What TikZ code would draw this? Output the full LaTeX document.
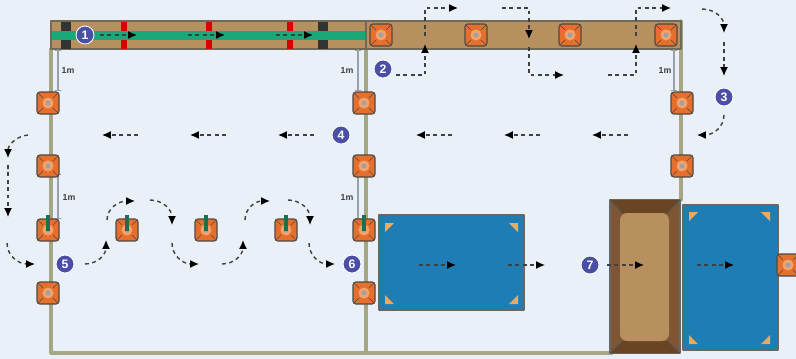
\documentclass[tikz,border=0pt]{standalone}
\usepackage{fontspec}
\setsansfont{Liberation Sans}
\usetikzlibrary{arrows.meta, calc}
\definecolor{paper}{HTML}{E9F0F8}
\definecolor{frameline}{HTML}{A5A684}
\definecolor{beamtan}{HTML}{B8905F}
\definecolor{beamedge}{HTML}{6E6A55}
\definecolor{tapegreen}{HTML}{1BA878}
\definecolor{stubgreen}{HTML}{1F6E50}
\definecolor{postorange}{HTML}{E56F2D}
\definecolor{postpale}{HTML}{F2A36B}
\definecolor{postedge}{HTML}{4F4A45}
\definecolor{matblue}{HTML}{1F7DB5}
\definecolor{mattri}{HTML}{EFA95A}
\definecolor{troughbrown}{HTML}{7F5633}
\definecolor{troughdark}{HTML}{694524}
\definecolor{markblue}{HTML}{4A4FA5}
\definecolor{dimgray}{HTML}{9AA0AC}
\tikzset{el/.style={line cap=round, line join=round},
  frm/.style={frameline, line width=1.8pt},
  flow/.style={black!75, line width=0.8pt, dash pattern=on 2.2pt off 2pt, line cap=butt, -{Latex[black, length=5pt, width=4.5pt]}},
  dimln/.style={dimgray, line width=0.9pt},
  stepmark/.style={circle, fill=markblue, draw=white, line width=0.5pt, text=white, inner sep=0pt, minimum size=0.36cm, font=\sffamily\bfseries\scriptsize},
  dimtxt/.style={inner sep=0pt, text=black!75, font=\sffamily\bfseries\tiny},
  post/.pic={
     \fill[postorange, draw=postedge, line width=0.6pt, rounded corners=1.6pt] (-11,-11) rectangle (11,11);
     \foreach \t in {45,135,225,315}{\draw[postedge, line width=0.25pt] (\t:7)--(\t:14);}
     \fill[postpale] (0,0) circle (5.5);
     \fill[dimgray] (0,0) circle (2.4);}}
\begin{document}
\begin{tikzpicture}[el, x=0.02cm, y=-0.02cm]
  \useasboundingbox (0,0) rectangle (796,359);
  \fill[paper] (0,0) rectangle (796,359);
  % frame
  \draw[frm] (681,200)--(681,21);
  \draw[frm] (51,49)--(51,353)--(612,353);
  \draw[frm] (366,49)--(366,353);
  % beams
  \fill[beamtan, draw=beamedge, line width=0.8pt] (51,21) rectangle (681,49);
  \fill[tapegreen] (52,31) rectangle (365,40);
  \foreach \x in {61,318}{\fill[black!80] (\x,22) rectangle (\x+10,31);\fill[black!80] (\x,40) rectangle (\x+10,49);}
  \foreach \x in {121,206,287}{\fill[red!85!black] (\x,22) rectangle (\x+6,31);\fill[red!85!black] (\x,40) rectangle (\x+6,49);}
  \draw[beamedge, line width=1pt] (366,21)--(366,49);
  % distance lines
  \foreach \x/\ya/\yb in {58/50/90, 358/50/90, 674/50/90, 58/174/218, 358/174/218}{
     \draw[dimln] (\x,\ya)--(\x,\yb);
     \draw[dimln, line width=0.5pt] (\x-3,\ya)--(\x+3,\ya);
     \draw[dimln, line width=0.5pt] (\x-3,\yb)--(\x+3,\yb);}
  \foreach \n/\x/\y in {a/68/70, b/347/70, c/665/70, d/69/197, e/347/197}{\node[dimtxt] (dim\n) at (\x,\y) {1m};}
  % mats and trough
  \fill[matblue, draw=black!60, line width=0.6pt] (379,215) rectangle (524,310);
  \fill[matblue, draw=black!60, line width=0.6pt] (683,205) rectangle (778,350);
  \foreach \cx/\cy/\sx/\sy in {385/223/1/1, 518/223/-1/1, 385/304/1/-1, 518/304/-1/-1, 689/212/1/1, 770/212/-1/1, 689/344/1/-1, 770/344/-1/-1}{
     \fill[mattri] (\cx,\cy)--++(\sx*9,0)--++(-\sx*9,\sy*9)--cycle;}
  \fill[troughbrown, draw=black!60, line width=0.6pt] (610,200) rectangle (680,353);
  \fill[troughdark] (610,200)--(680,200)--(668,213)--(622,213)--cycle;
  \fill[troughdark] (610,353)--(680,353)--(668,341)--(622,341)--cycle;
  \foreach \xa/\ya/\xb/\yb in {610/200/622/213, 680/200/668/213, 610/353/622/341, 680/353/668/341}{\draw[black!65, line width=0.6pt] (\xa,\ya)--(\xb,\yb);}
  \fill[beamtan, rounded corners=4pt] (620,213) rectangle (669,341);
  % posts
  \foreach \x/\y in {48/103, 48/166, 48/293, 364/103, 364/166, 364/293, 682/103, 682/166, 381/35, 476/35, 570/35, 666/35, 788/265}{\pic at (\x,\y) {post};}
  \foreach \x in {48,127,206,286,364}{
     \pic at (\x,230) {post};
     \draw[stubgreen, line width=1.8pt, line cap=butt] (\x,215)--(\x,231);}
  % straight arrows
  \foreach \x in {100,188,276,419,508,607,697}{
     \pgfmathsetmacro{\yy}{\x<300 ? 35 : 265}
     \draw[flow] (\x,\yy)--(\x+37,\yy);}
  \foreach \x in {102,190,278,416,504,592}{\draw[flow] (\x+36,135)--(\x,135);}
  % arrows round the beam
  \draw[flow] (396,75)--(425,75)--(425,44);
  \draw[flow] (425,36)--(425,8)--(458,8);
  \draw[flow] (502,8)--(529,8)--(529,39);
  \draw[flow] (529,47)--(529,75)--(564,75);
  \draw[flow] (608,75)--(636,75)--(636,44);
  \draw[flow] (636,36)--(636,8)--(671,8);
  \draw[flow] (724,42)--(724,76);
  \draw[flow] (8,165)--(8,217);
  % curved arrows
  \foreach \xa/\ya/\xc/\yc/\xb/\yb in {85/264/106/264/106/240, 107/220/107/201/135/201, 150/200/172/200/172/225, 172/243/172/264/199/264,
     222/264/243/264/243/240, 245/220/245/201/270/201, 288/200/310/200/310/225, 309/243/309/264/335/264,
     7/243/7/264/35/264, 28/135/8/137/8/158, 702/9/724/9/724/33, 724/115/724/135/697/135}{
     \draw[flow] (\xa,\ya) .. controls ($(\xa,\ya)!.6!(\xc,\yc)$) and ($(\xb,\yb)!.6!(\xc,\yc)$) .. (\xb,\yb);}
  % step marks
  \foreach \n/\x/\y in {1/85/35, 2/383/69, 3/724/97, 4/341/135, 5/65/264, 6/352/264, 7/590/265}{
     \node[stepmark] (mark\n) at (\x,\y) {\n};}
\end{tikzpicture}
\end{document}
